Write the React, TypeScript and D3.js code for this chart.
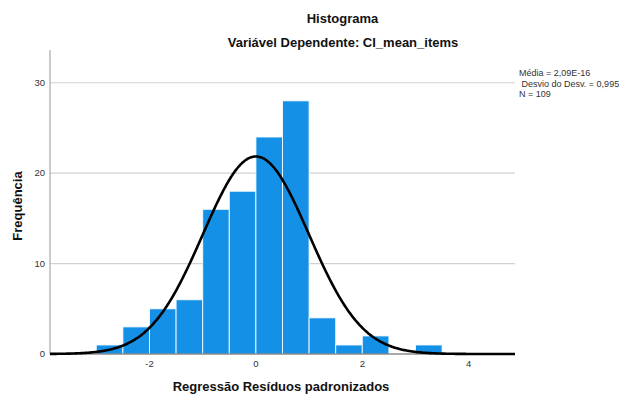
import React from "react";
import * as d3 from "d3";

const binStarts = [-3, -2.5, -2, -1.5, -1, -0.5, 0, 0.5, 1, 1.5, 2, 2.5, 3];
const counts = [1, 3, 5, 6, 16, 18, 24, 28, 4, 1, 2, 0, 1];
const binWidth = 0.5;
const yTicks = [0, 10, 20, 30];
const xTicks = [-2, 0, 2, 4];
const mean = 2.09e-16;
const sd = 0.995;
const n = 109;
const legendLines = ["Média = 2,09E-16", " Desvio do Desv. = 0,995", "N = 109"];

const W = 619;
const H = 394;
const FONT = "Arial, 'Liberation Sans', sans-serif";

export default function App() {
  const x = d3.scaleLinear().domain([-3.87, 4.87]).range([50, 515]);
  const y = d3.scaleLinear().domain([0, 33.62]).range([354, 50]);

  const curvePts = d3.range(-3.87, 4.8701, 0.02).map((v) => {
    const z = (v - mean) / sd;
    const dens = (n * binWidth) / (sd * Math.sqrt(2 * Math.PI)) * Math.exp(-0.5 * z * z);
    return [v, dens] as [number, number];
  });
  const line = d3
    .line<[number, number]>()
    .x((d) => x(d[0]))
    .y((d) => y(d[1]))
    .curve(d3.curveBasis);

  return (
    <div style={{ position: "absolute", left: 0, top: 0 }}>
      <svg width={W} height={H} style={{ display: "block", background: "#fff" }}>
        <rect x={0} y={0} width={W} height={H} fill="#fff" />
        {yTicks.filter((t) => t > 0).map((t) => (
          <line key={t} x1={x(-3.87)} x2={x(4.87)} y1={y(t)} y2={y(t)} stroke="#d2d2d2" strokeWidth={1.2} />
        ))}
        {binStarts.map((b, i) =>
          counts[i] > 0 ? (
            <rect
              key={b}
              x={x(b)}
              y={y(counts[i])}
              width={x(b + binWidth) - x(b)}
              height={y(0) - y(counts[i])}
              fill="#1491e6"
              stroke="#ffffff"
              strokeWidth={1}
              strokeOpacity={0.85}
            />
          ) : null
        )}
        <line x1={x(-3.87)} x2={x(-3.87)} y1={y(33.62)} y2={y(0)} stroke="#a8a8a8" strokeWidth={1.2} />
        <line x1={x(-3.87)} x2={x(4.87)} y1={y(0)} y2={y(0)} stroke="#555" strokeWidth={1} />
        <path d={line(curvePts) || ""} fill="none" stroke="#000" strokeWidth={2.6} />
        {yTicks.map((t) => (
          <text key={t} x={45} y={y(t)} dy="0.35em" textAnchor="end" fontFamily={FONT} fontSize={9.5} fill="#333">
            {t}
          </text>
        ))}
        {xTicks.map((t) => (
          <text key={t} x={x(t)} y={367} textAnchor="middle" fontFamily={FONT} fontSize={9.5} fill="#333">
            {t}
          </text>
        ))}
        <text x={342.5} y={22.7} textAnchor="middle" fontFamily={FONT} fontSize={13} fontWeight="bold" fill="#111">
          Histograma
        </text>
        <text x={343} y={46.5} textAnchor="middle" fontFamily={FONT} fontSize={13} fontWeight="bold" fill="#111">
          Variável Dependente: CI_mean_items
        </text>
        <text x={281} y={390.5} textAnchor="middle" fontFamily={FONT} fontSize={13} fontWeight="bold" fill="#111">
          Regressão Resíduos padronizados
        </text>
        <text
          transform={`translate(22,206) rotate(-90)`}
          textAnchor="middle"
          fontFamily={FONT}
          fontSize={13}
          fontWeight="bold"
          fill="#111"
        >
          Frequência
        </text>
        {legendLines.map((l, i) => (
          <text key={i} x={519} y={76 + i * 10.5} fontFamily={FONT} fontSize={9} fill="#333" style={{ whiteSpace: "pre" }}>
            {l}
          </text>
        ))}
      </svg>
    </div>
  );
}
